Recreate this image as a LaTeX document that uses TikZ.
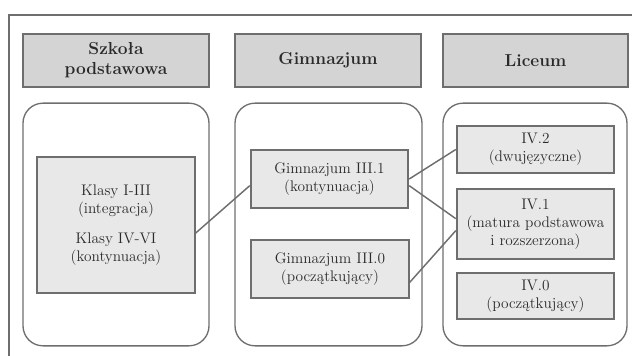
\documentclass[tikz,border=0pt]{standalone}
\usepackage{tikz}
\usetikzlibrary{shapes.geometric}
\definecolor{framegray}{HTML}{6E6E6E}
\definecolor{headfill}{HTML}{D4D4D4}
\definecolor{boxfill}{HTML}{E8E8E8}
\definecolor{textgray}{HTML}{2A2A2A}
\tikzstyle{header} = [rectangle, minimum width=139.5pt, minimum height=39.75pt, text centered, align=center, draw=framegray, line width=1.6pt, fill=headfill, font=\fontsize{13}{15}\selectfont\bfseries, text=textgray]
\tikzstyle{column} = [rectangle, rounded corners=15pt, minimum width=139.5pt, minimum height=182pt, draw=framegray, line width=1pt]
\tikzstyle{level} = [rectangle, minimum width=118pt, text centered, align=center, draw=framegray, line width=1.6pt, fill=boxfill, text=textgray, font=\fontsize{11.5}{13.5}\selectfont, inner sep=2pt]
\tikzstyle{edge} = [framegray, line width=1.1pt]

\begin{document}
\begin{tikzpicture}[x=0.75pt, y=-0.75pt]

\useasboundingbox (0,0) rectangle (632,356);
\draw [framegray, line width=1.5pt] (9,356) -- (9,15) -- (632,15);

% headers
\node (h1) [header] at (116,60.5) {Szkoła\\podstawowa};
\node (h2) [header] at (328,60.5) {Gimnazjum};
\node (h3) [header, minimum width=138.75pt] at (535.5,60.5) {Liceum};

% columns
\node (c1) [column] at (116,224.5) {};
\node (c2) [column, minimum width=140.25pt] at (328.5,224.5) {};
\node (c3) [column, minimum width=138pt] at (535,224.5) {};

% levels
\node (k) [level, minimum height=102pt] at (116,225) {Klasy I-III\\(integracja)\\[9pt]Klasy IV-VI\\(kontynuacja)};
\node (g1) [level, minimum height=43.5pt] at (329.5,179) {Gimnazjum III.1\\(kontynuacja)};
\node (g0) [level, minimum height=43.5pt] at (330,269) {Gimnazjum III.0\\(początkujący)};
\node (l2) [level, minimum height=35pt] at (535.5,149.5) {IV.2\\(dwujęzyczne)};
\node (l1) [level, minimum height=52.5pt] at (535.5,224) {IV.1\\(matura podstawowa\\i rozszerzona)};
\node (l0) [level, minimum height=34.5pt] at (535.5,296) {IV.0\\(początkujący)};

\draw [edge] ([yshift=-6pt]k.east) -- ([yshift=-5pt]g1.west);
\draw [edge] (g1.east) -- (l2.west);
\draw [edge] ([yshift=-5pt]g1.east) -- ([yshift=4pt]l1.west);
\draw [edge] ([yshift=-10pt]g0.east) -- ([yshift=-5pt]l1.west);

\end{tikzpicture}
\end{document}
